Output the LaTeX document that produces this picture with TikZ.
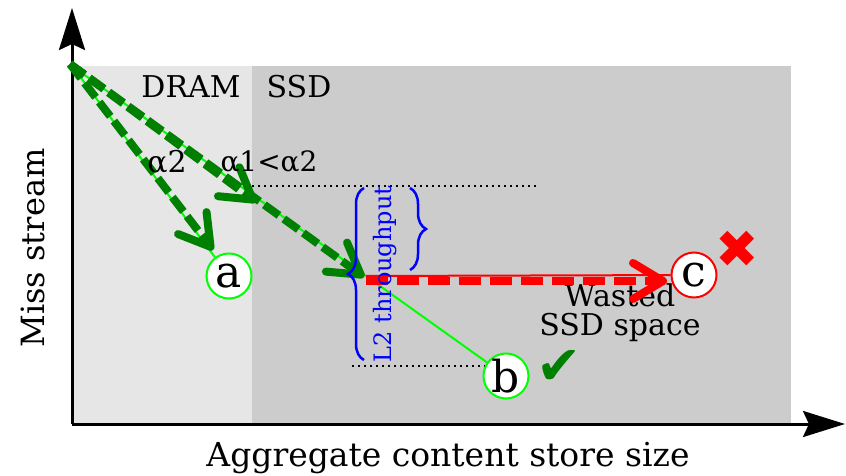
\documentclass[tikz,border=0pt]{standalone}
\usepackage{fontspec}
\setmainfont{DejaVu Serif}
\newfontfamily\symfont{DejaVu Sans}
\usetikzlibrary{arrows.meta,decorations.pathreplacing}
\definecolor{lightbg}{HTML}{E6E6E6}
\definecolor{darkbg}{HTML}{CCCCCC}
\definecolor{brightgreen}{HTML}{00FF00}
\definecolor{darkgreen}{HTML}{008000}
\definecolor{pureblue}{HTML}{0000FF}
\definecolor{purered}{HTML}{FF0000}
\newcommand{\fs}[1]{\fontsize{#1}{#1}\selectfont}
\begin{document}
\begin{tikzpicture}[x=1pt,y=-1pt,
  axisline/.style={line width=3pt,-{Stealth[length=42pt,width=26pt,inset=6pt]}},
  thinline/.style={line width=2pt},
  dasharrow/.style={line width=8pt,dash pattern=on 18pt off 6pt,-{Straight Barb[length=30pt,width=36pt,round]}},
  letternode/.style={circle,draw,fill=white,line width=2pt,minimum size=45pt,inner sep=0pt,font=\fs{44}},
  lbl/.style={inner sep=0pt,font=\fs{30}},
  gapline/.style={line width=2pt,dash pattern=on 2pt off 4pt},
  bracepath/.style={pureblue,line width=2.5pt,decorate}]
\useasboundingbox (0,0) rectangle (846,476);
\fill[lightbg] (72,66) rectangle (252,424);
\fill[darkbg] (252,66) rectangle (791,424);
% axes
\coordinate (orig) at (72,424);
\coordinate (ytip) at (72,8);
\coordinate (xtip) at (845,424);
\draw[axisline] (orig) -- (ytip);
\draw[axisline] (orig) -- (xtip);
\node[lbl,font=\fs{33}] (xlab) at (448,458) {Aggregate content store size};
\node[lbl,font=\fs{32},rotate=90] (ylab) at (33,248) {Miss stream};
\node[lbl] (dram) at (191,87) {DRAM};
\node[lbl] (ssd) at (299,87) {SSD};
% dotted guides
\coordinate (d1a) at (252,186); \coordinate (d1b) at (537,186);
\coordinate (d2a) at (352,366); \coordinate (d2b) at (490,366);
\draw[gapline] (d1a) -- (d1b);
\draw[gapline] (d2a) -- (d2b);
% texts under the red arrow
\node[lbl,anchor=base] (w1) at (620,306) {Wasted};
\node[lbl,anchor=base] (w2) at (620,335) {SSD space};
% nodes
\coordinate (O) at (72,66);
\coordinate (Od) at (70,64);
\node[letternode,draw=brightgreen] (a) at (229,276) {a};
\node[letternode,draw=brightgreen] (b) at (506,376) {b};
\node[letternode,draw=purered] (c) at (694,275) {c};
\draw[brightgreen,thinline] (O) -- (a);
\draw[brightgreen,thinline] (O) -- (b);
\coordinate (ta) at (213,250);
\coordinate (tm) at (256,202);
\coordinate (tb) at (364,277);
\draw[darkgreen,dasharrow] (Od) -- (ta);
\draw[darkgreen,dasharrow] (Od) -- (tm);
\draw[darkgreen,dasharrow] (Od) -- (tb);
\node[lbl] (al2) at (167,162) {α2};
\node[lbl,font=\fs{28}] (al1) at (269,162) {α1<α2};
% red
\coordinate (r0) at (366,276);
\coordinate (r1) at (366,281);
\coordinate (r2) at (667,281);
\draw[purered,thinline] (r0) -- (c);
\draw[purered,line width=8pt,dash pattern=on 22pt off 9pt,-{Straight Barb[length=30pt,width=36pt,round]}] (r1) -- (r2);
% braces
\coordinate (bl1) at (364,360); \coordinate (bl2) at (364,188);
\coordinate (br1) at (410,188); \coordinate (br2) at (410,270);
\draw[bracepath,decoration={brace,amplitude=16pt}] (bl1) -- (bl2);
\draw[bracepath,decoration={brace,amplitude=16pt}] (br1) -- (br2);
\node[lbl,text=pureblue,rotate=90,font=\fs{24}] (l2) at (385,274) {L2 throughput};
\node[inner sep=0pt,text=darkgreen,font=\symfont\fs{54}] (chk) at (559,367) {✔};
\node[inner sep=0pt,text=purered,font=\symfont\fs{52}] (crs) at (737,249) {✖};
\end{tikzpicture}
\end{document}
